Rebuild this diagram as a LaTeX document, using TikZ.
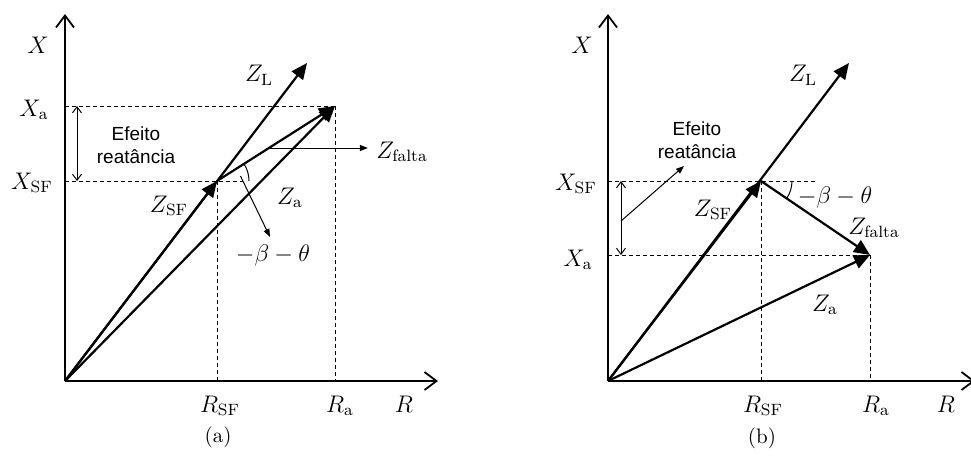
\documentclass[tikz,border=0pt]{standalone}
\usepackage{amsmath}
\usepackage{fontspec}
\setsansfont{Liberation Sans}
\usepackage{tikz}
\usetikzlibrary{arrows.meta}

\begin{document}
\begin{tikzpicture}[
  x=0.5pt, y=-0.5pt,
  ax/.style={line width=0.9pt, -{Straight Barb[length=6pt,width=9pt]}},
  vec/.style={line width=1.1pt, -{Triangle[length=8pt,width=7pt]}},
  dl/.style={line width=0.5pt, dash pattern=on 2pt off 1.5pt},
  ptr/.style={line width=0.5pt, -{Triangle[length=4pt,width=3pt]}},
  dim/.style={line width=0.5pt, {Straight Barb[length=3pt,width=4.5pt]}-{Straight Barb[length=3pt,width=4.5pt]}},
  lab/.style={font=\fontsize{11.7}{14}\selectfont, inner sep=1pt},
  txt/.style={font=\sffamily\fontsize{9.5}{11.5}\selectfont, align=center, inner sep=1pt},
  subcap/.style={font=\fontsize{10.5}{12}\selectfont, inner sep=1pt}
]
\useasboundingbox (0,0) rectangle (971,467);
% (a)
\coordinate (oa) at (65,381);
\coordinate (ya) at (65,14);
\coordinate (xa) at (438,381);
\coordinate (la) at (307,63);
\coordinate (sfa) at (217,181);
\coordinate (pa) at (335,106);
\coordinate (da1) at (77,106);
\coordinate (da2) at (77,181);
\coordinate (ba) at (270,237);
\draw[ax] (oa) -- (ya);
\draw[ax] (oa) -- (xa);
\draw[dl] (oa |- pa) -- (pa);
\draw[dl] (oa |- sfa) -- (sfa) -- ++(26,0);
\draw[dl] (sfa) -- (sfa |- oa);
\draw[dl] (pa) -- (pa |- oa);
\draw[vec] (oa) -- (la);
\draw[vec] (oa) -- (sfa);
\draw[vec] (oa) -- (pa);
\draw[vec] (sfa) -- (pa) coordinate[pos=0.44] (fa);
\draw[dim] (da1) -- (da2);
\draw[line width=0.5pt] (sfa) ++(32,0) arc[start angle=0, end angle=-31, radius=32];
\draw[ptr] ([shift={(-12:24)}]sfa) -- (ba);
\node[lab] (xlaba) at (38,45) {$X$};
\node[lab] (zla) at (259,75) {$Z_{\mathrm{L}}$};
\node[lab] (xaa) at (34,110) {$X_{\mathrm{a}}$};
\node[lab] (xsfa) at (32,183) {$X_{\mathrm{SF}}$};
\node[lab] (zsfa) at (169,206) {$Z_{\mathrm{SF}}$};
\node[lab] (zaa) at (290,198) {$Z_{\mathrm{a}}$};
\node[lab] (zfa) at (402,152) {$Z_{\mathrm{falta}}$};
\node[lab] (anga) at (273,255) {$-\beta-\theta$};
\node[lab] (rsfa) at (220,406) {$R_{\mathrm{SF}}$};
\node[lab] (raa) at (340,406) {$R_{\mathrm{a}}$};
\node[lab] (rlaba) at (404,404) {$R$};
\node[txt] (efa) at (136,145) {Efeito\\reatância};
\node[subcap] (capa) at (218,437) {(a)};
\draw[ptr] (fa) -- ([xshift=-3pt]fa -| zfa.west);
% (b)
\coordinate (ob) at (608,381);
\coordinate (yb) at (608,14);
\coordinate (xb) at (975,381);
\coordinate (lb) at (849,63);
\coordinate (sfb) at (761,181);
\coordinate (pb) at (870,255);
\coordinate (db1) at (621,181);
\coordinate (db2) at (621,255);
\coordinate (dbm) at (621,221);
\coordinate (eb) at (684,166);
\draw[ax] (ob) -- (yb);
\draw[ax] (ob) -- (xb);
\draw[dl] (ob |- sfb) -- (sfb) -- ++(57,0);
\draw[dl] (ob |- pb) -- (pb);
\draw[dl] (sfb) -- (sfb |- ob);
\draw[dl] (pb) -- (pb |- ob);
\draw[vec] (ob) -- (lb);
\draw[vec] (ob) -- (sfb);
\draw[vec] (ob) -- (pb);
\draw[vec] (sfb) -- (pb);
\draw[dim] (db1) -- (db2);
\draw[ptr] (dbm) -- (eb);
\draw[line width=0.5pt] (sfb) ++(31,0) arc[start angle=0, end angle=34, radius=31];
\node[lab] (xlabb) at (582,45) {$X$};
\node[lab] (zlb) at (803,75) {$Z_{\mathrm{L}}$};
\node[lab] (xsfb) at (576,184) {$X_{\mathrm{SF}}$};
\node[lab] (xab) at (578,260) {$X_{\mathrm{a}}$};
\node[lab] (zsfb) at (713,210) {$Z_{\mathrm{SF}}$};
\node[lab] (angb) at (835,197) {$-\beta-\theta$};
\node[lab] (zfb) at (874,228) {$Z_{\mathrm{falta}}$};
\node[lab] (zab) at (825,305) {$Z_{\mathrm{a}}$};
\node[lab] (rsfb) at (763,406) {$R_{\mathrm{SF}}$};
\node[lab] (rab) at (876,406) {$R_{\mathrm{a}}$};
\node[lab] (rlabb) at (946,404) {$R$};
\node[txt] (efb) at (697,140) {Efeito\\reatância};
\node[subcap] (capb) at (762,438) {(b)};
\end{tikzpicture}
\end{document}
